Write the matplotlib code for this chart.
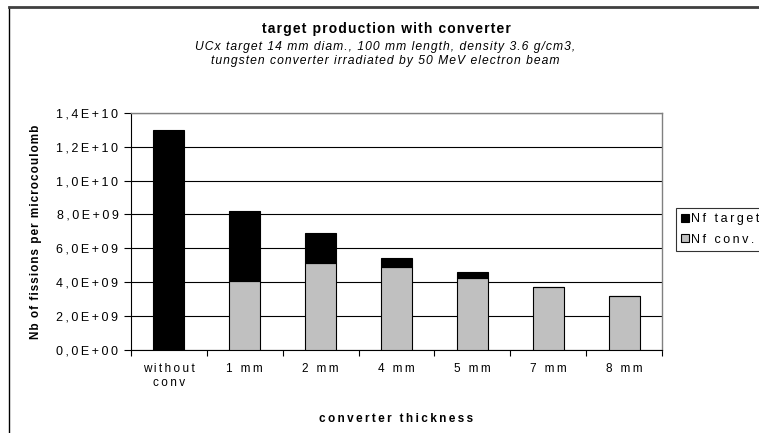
import matplotlib.pyplot as plt
from matplotlib.ticker import FuncFormatter, FixedLocator
from matplotlib.lines import Line2D
import numpy as np

plt.rcParams['font.family'] = ['Liberation Sans', 'DejaVu Sans']

HAIR = '\u200a'
THIN = '\u2009'


def sp(s, ch=THIN):
    # 模仿原图的字距: 在字符之间插入窄空格
    return '\n'.join(ch.join(line) for line in s.split('\n'))


# 数据
categories = ['without\nconv', '1 mm', '2 mm', '4 mm', '5 mm', '7 mm', '8 mm']
nf_conv = [0.0, 4.1e9, 5.15e9, 4.9e9, 4.27e9, 3.7e9, 3.2e9]
nf_target = [1.30e10, 4.1e9, 1.75e9, 0.55e9, 0.32e9, 0.0, 0.0]
series_names = ['Nf target', 'Nf conv.']

W, H = 759, 433
fig = plt.figure(figsize=(W / 100, H / 100), dpi=100)
ax = fig.add_axes([131 / W, 1 - 350 / H, (662 - 131) / W, (350 - 112.7) / H])

# 外框 (左边和上边)
fig.add_artist(Line2D([9 / W, 9 / W], [0, 1 - 7 / H], color='black', lw=1.0))
fig.add_artist(Line2D([9 / W, 1], [1 - 7 / H, 1 - 7 / H], color='#404040', lw=2.0))

x = np.arange(len(categories))
ax.bar(x, nf_conv, width=0.41, color='#c0c0c0', edgecolor='black', linewidth=0.8,
       label=sp(series_names[1]), zorder=3)
ax.bar(x, nf_target, width=0.41, bottom=nf_conv, color='black', edgecolor='black',
       linewidth=0.8, label=sp(series_names[0]), zorder=3)

ax.set_xlim(-0.5, len(categories) - 0.5)
ax.set_ylim(0, 1.4e10)
ax.set_yticks(np.arange(0, 1.41e10, 2e9))
ax.yaxis.set_major_formatter(FuncFormatter(lambda v, p: sp(f"{v:.1E}".replace('.', ','))))
ax.grid(axis='y', color='black', linewidth=0.8, zorder=0)

ax.set_xticks(x)
ax.set_xticklabels([sp(c) for c in categories], fontsize=8.5, linespacing=1.3)
ax.tick_params(axis='x', which='major', length=0, pad=9)
ax.xaxis.set_minor_locator(FixedLocator(np.arange(-0.5, len(categories), 1.0)))
ax.tick_params(axis='x', which='minor', length=4, width=0.8, direction='out')
ax.tick_params(axis='y', length=5, width=0.8, labelsize=9, pad=4)

for s in ['top', 'right']:
    ax.spines[s].set_color('#808080')
    ax.spines[s].set_linewidth(1.0)
for s in ['left', 'bottom']:
    ax.spines[s].set_color('black')
    ax.spines[s].set_linewidth(0.8)

ax.set_ylabel(sp('Nb of fissions per microcoulomb', HAIR), fontsize=8.5, fontweight='bold')
ax.yaxis.set_label_coords((42 - 131) / (662 - 131), 0.5)
ax.set_xlabel(sp('converter thickness'), fontsize=8.5, fontweight='bold')
ax.xaxis.set_label_coords(0.5, (350 - 413) / (350 - 112.7))

fig.text(386 / W, 1 - 29 / H, sp('target production with converter', HAIR),
         ha='center', va='center', fontsize=10, fontweight='bold')
fig.text(385 / W, 1 - 54 / H,
         sp('UCx target 14 mm diam., 100 mm length, density 3.6 g/cm3,\n'
            'tungsten converter irradiated by 50 MeV electron beam', HAIR),
         ha='center', va='center', fontsize=8.7, style='italic', linespacing=1.3)

handles, labels = ax.get_legend_handles_labels()
leg = fig.legend(handles[::-1], labels[::-1], loc='upper left',
                 bbox_to_anchor=(676 / W, 1 - 208 / H), fontsize=9, frameon=True,
                 fancybox=False, handlelength=0.6, handleheight=0.6, handletextpad=0.2,
                 borderpad=0.4, labelspacing=0.7, borderaxespad=0)
leg.get_frame().set_edgecolor('black')
leg.get_frame().set_linewidth(0.8)

fig.savefig('out.png', dpi=100)
